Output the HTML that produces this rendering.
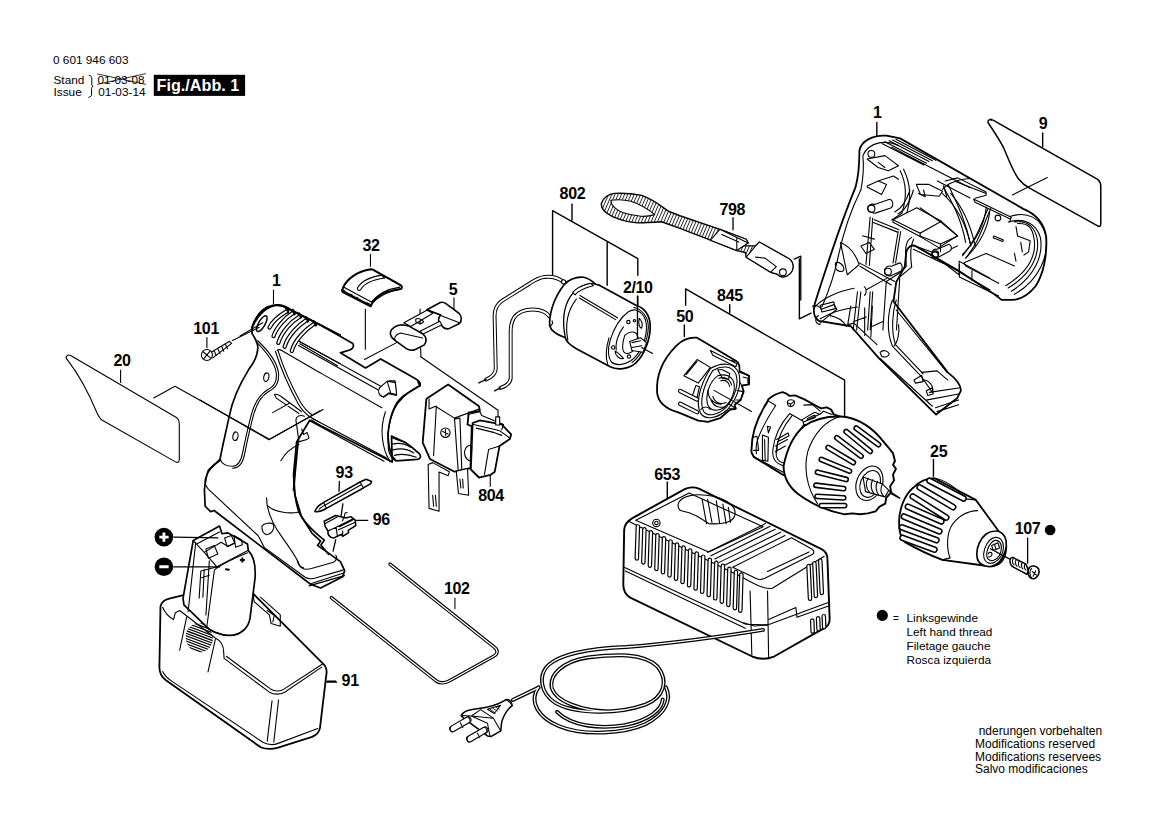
<!DOCTYPE html>
<html><head><meta charset="utf-8">
<style>
html,body{margin:0;padding:0;background:#fff;width:1169px;height:826px;overflow:hidden}
svg{display:block}
.t{font-family:"Liberation Sans",sans-serif;font-size:11.8px;fill:#000}
.l{font-family:"Liberation Sans",sans-serif;font-size:16px;font-weight:bold;fill:#000;letter-spacing:-0.35px}
.s{fill:none;stroke:#000;stroke-width:1.1;stroke-linejoin:round;stroke-linecap:round}
.s path,.s line,.s polyline,.s ellipse,.s circle,.s rect,.s polygon{vector-effect:non-scaling-stroke}
.w{fill:#fff}
</style></head><body>
<svg width="1169" height="826" viewBox="0 0 1169 826">
<rect width="1169" height="826" fill="#fff"/>
<!-- header -->
<text class="t" x="53" y="63.5">0 601 946 603</text>
<text class="t" x="53.5" y="84.2">Stand</text>
<text class="t" x="53.5" y="95.9">Issue</text>
<text class="t" x="97.4" y="84.2">01-03-08</text>
<text class="t" x="98.3" y="95.9">01-03-14</text>
<rect x="153.8" y="74.8" width="91.3" height="21.1" fill="#000"/>
<text x="156.6" y="90.8" style="font-family:'Liberation Sans',sans-serif;font-size:16.2px;font-weight:bold;fill:#fff">Fig./Abb. 1</text>
<path d="M88.8,75.2 C91,75.6 91.8,76.8 91.8,79 L91.8,84 C91.8,85.4 92.2,86 93.2,86.3 C92.2,86.7 91.6,87.3 91.6,88.6 L91.6,94 C91.6,96 90.6,97 88.4,97.3" fill="none" stroke="#000" stroke-width="1"/>
<path d="M97.1,73.9 L145.9,84.4 M97.1,84.4 L145.9,73.6" fill="none" stroke="#000" stroke-width="0.8"/>
<!-- labels -->
<text class="l" x="272" y="285.8">1</text>
<text class="l" x="193.3" y="334.3">101</text>
<text class="l" x="113.4" y="366.3">20</text>
<text class="l" x="362.4" y="251.1">32</text>
<text class="l" x="448.7" y="295.0">5</text>
<text class="l" x="559.6" y="198.8">802</text>
<text class="l" x="622.9" y="292.9">2/10</text>
<!-- battery 91 base (130,580 s4.5909) -->
<g class="s" transform="translate(130,580) scale(0.217822)">
<path class="w" d="M140,120 C145,100 160,90 180,85 L250,68 L565,62 L880,378 C898,392 905,410 902,430 L872,680 C868,700 856,712 836,720 L680,770 C650,778 625,778 600,768 L165,460 C145,445 135,425 135,400 Z" stroke-width="1.8"/>
<path d="M150,125 C160,150 180,170 200,182 L208,150 L228,140 L390,265 C420,280 430,300 430,330 L432,360 L640,515 C660,527 690,527 710,515 L880,400"/>
<path d="M442,350 L645,500 C665,512 690,512 705,502 L884,386"/>
<path d="M150,420 C160,440 175,455 200,470 L610,745 C630,755 660,758 680,750 L862,682"/>
<path d="M652,555 L630,740 M682,550 L660,745 M260,170 L228,322 M392,272 L358,422"/>
<path d="M565,65 L570,100 L640,160 L648,200 L690,212 L690,160 L600,80 M630,140 L662,162 L656,192"/>
<path d="M905,465 L945,465" stroke-width="1.4"/>
</g>
<g transform="translate(130,580) scale(0.217822)">
<defs><clipPath id="padclip"><ellipse cx="318" cy="265" rx="62" ry="68" transform="rotate(-15 318 265)"/></clipPath></defs>
<g clip-path="url(#padclip)" stroke="#000" stroke-width="5.5" fill="none">
<path d="M240,190 L400,250 M240,202 L400,262 M240,214 L400,274 M240,226 L400,286 M240,238 L400,298 M240,250 L400,310 M240,262 L400,322 M240,274 L400,334 M240,286 L400,346 M240,298 L400,358 M240,178 L400,238 M240,166 L400,226"/>
</g>
</g>
<!-- battery stem (150,510 s5.9) -->
<g class="s" transform="translate(150,510) scale(0.169492)">
<path class="w" d="M255,180 L410,95 L425,140 L460,135 L575,200 L580,240 C610,270 625,320 620,400 L590,640 C580,700 530,740 470,740 C410,740 350,710 330,685 L200,560 L195,520 Z" stroke-width="1.7"/>
<path d="M390,345 C440,310 520,275 575,252 M395,340 L380,355 L335,690"/>
<path d="M255,180 L320,250 L395,335 L580,238 M275,200 L410,130 M320,250 L420,190 L460,215 L500,195 M270,190 L225,600 M350,300 L330,620"/>
<path d="M330,230 L380,210 L400,260 L345,285 Z M440,165 L480,150 L500,195 L455,215 Z M495,150 L540,175 L545,205 L505,220 Z"/>
<path d="M300,360 L290,520 M320,350 L312,515 M300,360 L400,335 M305,400 L350,385"/>
<path d="M140,160 L400,165 M140,335 L412,335" stroke-width="1.2"/>
<path d="M535,295 L555,295 M545,285 L545,305 M448,350 L465,352" stroke-width="2"/>
</g>
<g transform="translate(150,510) scale(0.169492)">
<circle cx="82" cy="160" r="55" fill="#000"/><circle cx="82" cy="335" r="55" fill="#000"/>
<path d="M55,160 L110,160 M82,133 L82,187 M55,335 L110,335" stroke="#fff" stroke-width="17" fill="none"/>
</g>

<!-- bit 93 clip 96 (310,470 s9.1778) -->
<g class="s" transform="translate(310,470) scale(0.108959)">
<path d="M270,105 L266,195 M425,462 L530,462 M302,310 L278,470 M236,640 L212,745" stroke-width="1.3"/>
<path class="w" d="M45,380 C60,340 90,315 125,298 L460,110 L515,85 L565,105 L558,125 L490,165 L150,352 C115,372 85,390 45,380 Z" stroke-width="1.5"/>
<path d="M85,360 C100,345 120,330 140,322 L470,135 M460,110 L490,165 M125,298 L150,352"/>
<path class="w" d="M130,470 L235,418 L330,440 L375,428 L415,460 L420,510 L350,555 L355,575 L300,610 L290,590 L215,625 C180,615 160,590 165,560 L140,520 Z" stroke-width="1.5"/>
<path d="M140,492 L250,432 M165,560 L240,525 L395,448 M240,525 L250,600 M270,520 L400,455 M262,548 L410,482 M300,560 L300,600"/>
<path d="M298,465 L318,420 C314,402 324,386 340,392"/>
</g>

<!-- cap 32, slider 5 (320,220 s5.845) -->
<g class="s" transform="translate(320,220) scale(0.171086)">
<path d="M295,200 L295,270 M783,455 L783,520 M265,520 L265,755 M585,520 L585,610 M588,745 L590,800 M260,815 L470,705"/>
<path class="w" d="M625,525 L703,482 C718,478 728,482 738,490 L812,545 C830,562 830,590 815,605 L760,632 C745,640 730,637 718,625 L700,605 C690,590 692,570 705,555 Z" stroke-width="1.6"/>
<path d="M705,555 L625,525 M705,558 L815,600"/>
<path class="w" d="M585,650 L700,592 L712,612 L600,668 Z"/>
<path class="w" d="M490,600 L625,527 L660,545 L530,622 Z"/>
<path d="M560,580 C570,570 600,580 605,595 C600,610 570,605 560,595 Z"/>
<path class="w" d="M412,655 C420,630 450,615 480,612 L520,620 L600,665 C620,680 625,705 610,730 L560,755 C540,765 520,762 505,752 L440,705 C420,690 408,672 412,655 Z" stroke-width="1.6"/>
<path d="M440,705 C430,690 440,670 470,660 L600,690"/>
</g>
<!-- cap 32 (335,260 s16.514) -->
<g class="s" transform="translate(335,260) scale(0.060555)">
<path class="w" d="M140,440 C200,320 350,190 590,152 L625,158 L1090,420 C1112,438 1108,470 1085,480 C900,505 720,570 620,700 L590,765 L130,530 C110,515 112,495 125,480 Z" stroke-width="2"/>
<path d="M140,445 L600,695 C700,570 860,480 1070,448"/>
<path d="M130,500 L590,740 C690,620 860,520 1080,478"/>
<path class="w" d="M370,462 C420,380 550,282 780,250 L800,302 C600,332 470,402 422,492 C402,512 362,502 370,462 Z"/>
<path d="M625,158 L800,262 L820,300 M800,262 L900,310 L1100,430"/>
</g>
<g transform="translate(335,260) scale(0.060555)">
<path d="M135,490 L590,735 L585,765 L125,525 Z" fill="#000"/>
<path d="M170,510 L260,555 M380,620 L520,695 M290,575 L360,610" stroke="#fff" stroke-width="14" fill="none"/>
</g>

<!-- charger 653 (615,480 s4.5889) -->
<g class="s" transform="translate(615,480) scale(0.217917)">
<path d="M240,10 L240,80" stroke-width="1.4"/>
<path class="w" d="M80,175 L320,42 C340,32 365,32 385,40 L950,318 C968,328 975,345 975,365 L985,640 C985,660 975,672 960,680 L730,810 C700,822 660,822 630,810 L70,540 C45,525 38,505 38,480 L42,230 C42,210 55,190 80,175 Z" stroke-width="1.9"/>
<path d="M60,188 L590,450 C640,478 680,500 720,498 L960,350"/>
<path d="M95,185 L340,60 L680,215 L430,330 Z" />
<path d="M42,400 L600,662 L700,665 L985,560 M48,418 L598,680"/>
<path d="M700,510 L705,815 M620,510 L628,805"/>
<path d="M290,110 C300,75 360,62 420,70 C500,80 560,115 550,160 C545,195 490,205 430,200 L375,165 L340,150 L300,140 C290,130 288,120 290,110 Z"/>
<path d="M400,90 L420,200 M425,88 L445,195 M465,95 L480,198 M495,110 L510,200 M520,125 L530,195"/>
<circle cx="190" cy="197" r="17"/><circle cx="190" cy="197" r="8"/>
<path d="M425,332 L690,200 M440,348 L712,212 M458,362 L735,226 M478,378 L760,240 M500,392 L780,255"/>
<path d="M540,400 L810,265 L905,318 C915,325 915,335 905,342 L690,450 C675,458 660,458 648,452 Z"/>
<path d="M700,420 L890,330"/>
<path d="M590,655 L640,670 L700,665 M830,585 L835,630 L980,578 M830,585 L705,640"/>
</g>
<g transform="translate(615,480) scale(0.217917)" fill="none" stroke-linecap="round">
<g stroke="#000" stroke-width="21">
<path d="M105,213 L100,360 M135,226 L130,378 M165,240 L160,393 M195,254 L190,408 M225,268 L220,423 M255,282 L250,438 M285,296 L280,453 M315,310 L310,468 M345,324 L340,483 M375,338 L370,498 M405,352 L400,513 M435,366 L430,528 M465,380 L460,543 M495,394 L490,558 M525,408 L520,573 M555,422 L550,588 M580,434 L575,600"/>
<path d="M888,395 L895,545 M915,382 L922,532 M942,370 L949,518 M905,645 L907,695 M932,635 L934,685 M958,625 L960,675"/>
</g>
<g stroke="#fff" stroke-width="10">
<path d="M105,213 L100,360 M135,226 L130,378 M165,240 L160,393 M195,254 L190,408 M225,268 L220,423 M255,282 L250,438 M285,296 L280,453 M315,310 L310,468 M345,324 L340,483 M375,338 L370,498 M405,352 L400,513 M435,366 L430,528 M465,380 L460,543 M495,394 L490,558 M525,408 L520,573 M555,422 L550,588 M580,434 L575,600"/>
<path d="M888,395 L895,545 M915,382 L922,532 M942,370 L949,518 M905,645 L907,695 M932,635 L934,685 M958,625 L960,675"/>
</g>
</g>
<!-- cord + plug (440,640 s4.8708) -->
<g transform="translate(440,640) scale(0.205303)" fill="none" stroke-linecap="round" stroke-linejoin="round">
<g stroke="#000" stroke-width="19">
<path d="M1573,-49 C1400,-20 1100,20 906,34 C760,40 600,60 530,120 C475,170 490,260 560,305 C650,360 860,365 1000,315 C1090,280 1115,200 1060,130 C990,60 850,70 720,85 C590,105 530,175 545,235 C565,300 690,345 820,348"/>
<path d="M1100,230 C1130,290 1100,360 1000,410 C900,455 700,470 580,420 C480,380 430,300 480,230"/>
<path d="M1085,290 C1080,340 1020,390 900,415 C780,435 640,420 570,350"/>
<path d="M480,232 L355,292"/>
</g>
<g stroke="#fff" stroke-width="6.5">
<path d="M1573,-49 C1400,-20 1100,20 906,34 C760,40 600,60 530,120 C475,170 490,260 560,305 C650,360 860,365 1000,315 C1090,280 1115,200 1060,130 C990,60 850,70 720,85 C590,105 530,175 545,235 C565,300 690,345 820,348"/>
<path d="M1100,230 C1130,290 1100,360 1000,410 C900,455 700,470 580,420 C480,380 430,300 480,230"/>
<path d="M1085,290 C1080,340 1020,390 900,415 C780,435 640,420 570,350"/>
<path d="M480,232 L355,292"/>
</g>
</g>
<!-- plug (440,680 s11.8) -->
<g transform="translate(440,680) scale(0.084746)" fill="none" stroke-linecap="round" stroke-linejoin="round">
<path d="M780,232 C720,270 650,300 560,320 C480,335 400,345 330,360 C290,372 262,395 250,420 L290,460 L560,660 L600,668 L718,600 C722,560 722,520 732,480 C760,400 800,340 852,302 C850,280 835,250 815,235 C800,226 790,228 780,232 Z" fill="#fff" stroke="#000" stroke-width="18"/>
<path d="M780,232 C800,240 830,270 852,302 M370,425 L630,450 L715,600 M480,350 L630,450 M370,425 L560,510 L590,665 M250,420 L370,425 L480,350" stroke="#000" stroke-width="12"/>
<path d="M560,345 L715,298 L640,395 Z" fill="#fff" stroke="#000" stroke-width="12"/>
<path d="M590,345 L650,390 M625,335 L675,365 M660,322 L700,345" stroke="#000" stroke-width="10"/>
<g stroke="#000" stroke-width="84"><path d="M330,470 L150,575 M530,590 L350,695"/></g>
<g stroke="#fff" stroke-width="58"><path d="M330,470 L150,575 M530,590 L350,695"/></g>
<path d="M130,550 C115,560 115,595 135,610 M330,670 C315,680 315,715 335,730 M240,505 L270,560 M440,625 L470,680 M330,440 C355,450 365,490 340,510 M530,560 C555,570 565,610 540,630" stroke="#000" stroke-width="12"/>
</g>

<!-- chuck 25 + screw 107 (840,430 s5.0826) -->
<g class="s" transform="translate(840,430) scale(0.196748)">
<path d="M475,150 L475,235 M235,310 L300,345" stroke-width="1.4"/>
<path class="w" d="M300,470 C300,400 330,330 370,295 C400,265 440,245 480,245 L690,355 L840,560 C850,590 845,640 820,670 C800,690 770,695 740,690 L520,660 C480,645 400,610 330,570 C310,550 300,510 300,470 Z" stroke-width="1.8"/>
<path d="M480,245 C520,250 590,285 635,350 M690,355 L635,350"/>
<path d="M700,410 C650,410 590,440 560,500 C540,550 545,620 560,650 L520,660"/>







</g>
<g transform="translate(840,430) scale(0.196748)" fill="none" stroke-linecap="round"><g stroke="#000" stroke-width="34"><path d="M455,258 L628,348 M405,292 L575,392 M370,338 L540,445 M345,390 L515,465 M325,440 L505,515 M315,495 L490,560 M318,548 L480,608"/></g><g stroke="#fff" stroke-width="18"><path d="M455,258 L628,348 M405,292 L575,392 M370,338 L540,445 M345,390 L515,465 M325,440 L505,515 M315,495 L490,560 M318,548 L480,608"/></g></g>
<g transform="translate(840,430) scale(0.196748)"><circle cx="1068" cy="508" r="27" fill="#000"/></g>
<!-- chuck nose + screw 107 (970,520 s11.8) -->
<g class="s" transform="translate(970,520) scale(0.084746)">
<path d="M680,215 L680,510" stroke-width="1.3"/>
<path class="w" d="M300,130 C360,125 410,170 425,240 C440,320 410,420 350,490 C300,540 230,560 170,540 C110,520 80,470 80,400 C80,320 120,220 190,165 C225,140 260,132 300,130 Z" stroke-width="1.7"/>
<path d="M300,205 C360,200 395,250 395,320 C395,400 350,470 290,500 C230,525 180,505 165,450 C150,390 175,300 225,245 C250,220 275,207 300,205 Z"/>
<path d="M300,240 C345,238 372,275 370,330 C368,395 335,450 285,472 C240,490 205,470 198,430 C190,380 215,310 250,270 C265,252 282,242 300,240 Z"/>
<path d="M255,300 L330,270 L350,330 L275,360 Z M290,285 L305,345 M215,400 C220,380 250,375 260,395 C262,420 240,440 220,435"/>
<path d="M240,340 L470,462" stroke-width="1.2"/>
<path class="w" d="M480,450 C500,440 520,445 530,455 L660,520 L690,600 L670,640 L520,560 C490,545 470,520 472,480 Z" stroke-width="1.5"/>
<path d="M510,455 C495,480 500,515 520,530 M545,470 C530,495 535,530 555,545 M580,487 C565,512 570,547 590,560 M615,503 C600,528 605,563 625,577 M650,518 C635,543 640,578 660,592"/>
<path class="w" d="M700,560 C730,530 790,540 810,580 C825,620 805,670 765,690 C730,700 700,680 690,650 C682,620 685,585 700,560 Z" stroke-width="1.6"/>
<path d="M725,570 C700,600 700,660 730,685 M735,610 L785,650 M775,600 L745,665"/>
</g>

<!-- gear 50 + 845 bracket (640,270 s3.177) -->
<g class="s" transform="translate(640,270) scale(0.314762)">
<path d="M145,112 L145,60 L650,350 L650,465 M285,110 L285,135" stroke-width="1.4"/>
</g>
<!-- gear 50 (645,325 s8.26) -->
<g class="s" transform="translate(645,325) scale(0.121065)">
<path d="M325,0 L325,95" stroke-width="1.4"/>
<path class="w" d="M100,560 C90,420 150,280 260,170 C310,120 370,100 430,105 L750,295 C775,310 785,340 780,380 L860,420 L860,490 L800,500 L815,550 L790,620 L740,660 L750,690 L700,700 L620,770 L520,800 L440,790 L270,720 C170,690 110,640 100,560 Z" stroke-width="1.8"/>
<path d="M540,360 C620,310 740,300 775,400 C800,480 770,600 680,700 C600,770 500,790 460,730 C420,660 440,520 540,360 Z"/>
<path d="M560,375 C630,335 720,330 752,410 C775,480 748,590 670,680 C600,745 520,760 485,715 C450,650 470,520 560,375 Z"/>
<path d="M600,420 C660,400 720,420 735,480 C748,550 715,640 640,690 C580,720 530,700 515,650 C500,580 530,470 600,420 Z"/>
<path d="M610,440 C660,425 705,445 715,495 M625,460 C665,450 695,470 700,510 M560,590 C575,640 620,660 670,640 M545,620 C565,670 610,690 660,675 M520,540 C520,600 560,650 630,655"/>
<path d="M540,210 L760,320 L750,345 L560,250 Z M700,290 L740,300"/>
<path d="M780,390 L860,420 L860,490 L800,500 L780,470 M810,430 L850,440 L850,480"/>
<path d="M760,540 L810,550 L790,620 L750,620 M690,650 L750,690 L740,700 L700,690"/>
<path d="M320,420 L430,285 L540,350 L440,480 Z M340,410 L430,300"/>
<path d="M390,590 L420,500 L450,510 L430,600 Z"/>
<path d="M600,370 L640,370 L700,400 L690,450 L640,440 Z M460,700 C480,670 520,670 540,700"/>
</g>
<g transform="translate(645,325) scale(0.121065)" fill="none" stroke-linecap="round">
<g stroke="#000" stroke-width="36"><path d="M290,545 L430,615 M290,650 L430,720"/></g>
<g stroke="#fff" stroke-width="18"><path d="M290,545 L430,615 M290,650 L430,720"/></g>
<path d="M570,540 L880,715" stroke="#000" stroke-width="9"/>
</g>

<!-- gearbox back (745,385 s9.18) -->
<g class="s" transform="translate(745,385) scale(0.108932)">
<path class="w" d="M60,620 C55,480 90,330 205,155 L215,130 C250,100 300,75 345,65 L380,80 L410,100 L460,95 L540,130 C600,160 650,190 700,215 L750,205 L790,225 L815,270 L870,290 L500,826 L350,826 L180,720 L80,660 Z" stroke-width="1.9"/>
<path d="M215,148 L282,188 M282,188 C220,280 150,400 110,520 C100,570 100,600 105,630"/>
<path d="M410,262 L530,330 M410,262 C330,350 270,460 255,600 C250,680 280,720 360,745 M432,282 C360,370 300,470 285,610 C282,670 300,705 370,720"/>
<path d="M530,330 L540,360 L600,385 M540,360 C470,450 420,560 400,700"/>
<path d="M390,150 C400,130 440,130 455,150 C460,175 440,200 415,198 C395,195 385,170 390,150 Z M395,165 L420,175 L452,150 M420,175 L418,198"/>
<path d="M540,185 L620,180 L690,240 M520,320 L640,250 L690,270 L720,240 L800,270 M540,340 L680,270 M580,305 L630,280 C650,275 655,290 640,300 L590,320 C570,325 565,310 580,305 Z"/>
<path d="M75,480 L110,470 L125,600 L80,600 M160,460 L215,480 L210,700 L160,690 Z M180,500 L185,690 M205,380 L235,385 L215,440 Z"/>
<path d="M290,500 L395,440 L405,465 L300,520 M280,560 L390,500 M280,610 L370,560 M300,520 L290,620"/>
<path d="M60,620 C70,650 90,670 120,680 L350,800"/>
</g>
<!-- gearbox 845 (740,370 s5.1625) -->
<g class="s" transform="translate(740,370) scale(0.193705)">
<path class="w" d="M225,495 C240,420 270,340 330,290 C380,255 440,238 520,240 C600,245 670,290 720,345 L770,405 L790,430 L800,470 L790,490 L805,510 L790,540 L795,570 L775,600 L780,630 L755,660 L750,690 L720,705 L700,730 L660,740 L620,745 L580,740 L540,745 C460,730 380,700 300,640 C250,600 225,550 225,495 Z" stroke-width="1.9"/>
<path d="M520,240 C440,260 380,330 350,420 C330,500 340,600 400,690"/>
</g>
<g transform="translate(740,370) scale(0.193705)" fill="none" stroke-linecap="round">
<g stroke="#000" stroke-width="30">
<path d="M600,300 L715,385 M548,318 L672,420 M500,350 L625,445 M455,400 L585,478 M420,462 L565,522 M400,528 L548,565 M392,595 L535,612 M398,652 L535,660 M420,700 L540,700"/>
</g>
<g stroke="#fff" stroke-width="14">
<path d="M600,300 L715,385 M548,318 L672,420 M500,350 L625,445 M455,400 L585,478 M420,462 L565,522 M400,528 L548,565 M392,595 L535,612 M398,652 L535,660 M420,700 L540,700"/>
</g>
</g>
<g class="s" transform="translate(740,370) scale(0.193705)">
<ellipse class="w" cx="668" cy="585" rx="66" ry="92" transform="rotate(22 668 585)"/>
<ellipse cx="672" cy="588" rx="50" ry="72" transform="rotate(22 672 588)"/>
<path class="w" d="M635,552 L735,588 L768,622 L748,655 L648,628 Z"/>
<path d="M662,558 C646,580 650,612 668,630 M686,566 C671,589 676,620 692,638 M710,575 C697,598 702,628 716,645 M735,588 C724,610 727,636 742,652 M768,622 L826,662"/>
</g>

<!-- LEFT HOUSING silhouette (zoom 180,280 s2.58125) -->
<g class="s" transform="translate(180,280) scale(0.387409)">
<path class="w" d="M186,123 C190,105 205,80 225,70 C238,65 255,63 265,66 C272,68 278,72 285,76 L360,115 L445,163 C450,168 448,175 440,180 L414,188 L479,227 L518,204 L608,255 C618,260 622,268 619,273 C600,285 590,290 583,295 C568,305 560,315 555,326 C545,345 540,365 537,395 C537,420 540,440 549,457 L558,467 L612,463 C622,462 624,452 615,446 C600,432 590,423 575,416 L546,403 L548,470 L335,362 L301,418 L293,502 L296,553 L313,609 L341,654 L363,674 L355,685 L386,707 L414,727 L425,750 L420,766 L363,795 L338,786 L88,595 L79,598 L65,584 L63,542 C65,520 70,500 73,492 C80,482 90,475 103,464 C108,436 117,399 127,352 C136,305 155,267 178,230 C190,215 200,195 201,175 C201,160 192,148 186,138 Z" stroke-width="1.7"/>
</g>
<!-- ribs / top (240,295 s11.69) -->
<g class="s" transform="translate(240,295) scale(0.085543)">
<path d="M140,380 C200,250 300,140 420,120 C480,115 530,140 560,160 L920,340 L1169,470" stroke-width="2"/>
<path d="M545,160 L560,200 M615,180 L635,220 M690,220 L710,260 M770,265 L790,305 M860,310 L885,350" stroke-width="3"/>
<ellipse cx="255" cy="335" rx="38" ry="105" transform="rotate(30 255 335)" stroke-width="1.5"/>
<path d="M0,480 L265,325"/>
<path d="M690,540 L1169,800 M700,570 L1140,826"/>
</g>
<g transform="translate(240,295) scale(0.085543)" fill="none" stroke-linecap="round">
<g stroke="#000" stroke-width="50">
<path d="M540,195 C480,230 385,305 345,380"/><path d="M612,215 C540,260 425,375 392,480"/><path d="M688,258 C608,305 490,425 448,560"/><path d="M768,300 C690,350 560,470 522,605"/><path d="M855,345 C780,395 640,520 605,655"/>
</g>
<g stroke="#fff" stroke-width="22">
<path d="M540,195 C480,230 385,305 345,380"/><path d="M612,215 C540,260 425,375 392,480"/><path d="M688,258 C608,305 490,425 448,560"/><path d="M768,300 C690,350 560,470 522,605"/><path d="M855,345 C780,395 640,520 605,655"/>
</g>
</g>
<!-- grip (200,340 s5.5067) -->
<g class="s" transform="translate(200,340) scale(0.181598)">

<path d="M310,10 C360,60 410,120 420,180 C425,230 410,255 370,275 C330,300 300,340 280,420 C265,480 250,540 235,620 C225,670 210,695 180,695 C145,695 120,680 112,660"/>
<path d="M318,4 C372,55 422,115 432,178 C437,235 420,262 378,284 C340,306 312,345 292,422 C277,482 262,542 247,622 C237,680 218,706 180,706"/>
<ellipse cx="365" cy="205" rx="14" ry="24" transform="rotate(12 365 205)"/>
<ellipse cx="195" cy="530" rx="14" ry="24" transform="rotate(12 195 530)"/>
<path d="M415,62 C440,140 490,260 540,350 C560,385 580,405 600,420"/>
<path d="M430,60 C455,140 505,255 552,340 C570,370 590,395 615,410"/>
<path d="M425,58 C430,52 440,52 450,58 L661,180"/>
<path d="M410,300 C420,295 430,300 445,310 L560,395 M410,300 L420,320 L545,405 M400,400 L490,350"/>
<path d="M0,330 L380,550 L661,390"/>
<path d="M545,560 L528,440 C530,420 550,410 575,420 M545,560 C565,555 590,550 600,540 L590,510 L570,520 L560,490"/>
<path d="M540,560 L515,826" stroke-width="1.8"/>
<path d="M445,665 C470,620 510,590 545,575"/>
<path d="M600,420 L661,455 M615,440 L661,470"/>
</g>
<!-- front opening details (360,370 s8.26) -->
<g class="s" transform="translate(360,370) scale(0.121065)">
<path d="M480,135 C400,180 320,250 280,330 C240,420 220,520 235,660 C245,700 260,730 285,745"/>
<path d="M210,345 C185,420 178,500 185,560 C190,620 205,690 250,760"/>
<path d="M262,560 C300,575 340,590 380,600 M268,612 C320,600 370,605 420,640 M273,660 C330,645 390,650 445,685 M283,705 C340,690 400,695 465,720"/>
<path d="M165,145 C150,170 160,215 195,225 L240,195 L300,210 L290,90 L240,90 Z"/>
<path d="M480,95 L495,130" stroke-width="2"/>
</g>
<!-- lower base details (195,460 s6.356) -->
<g class="s" transform="translate(195,460) scale(0.157332)">
<path d="M165,0 C110,40 80,70 65,120 C60,150 70,175 100,200 L400,480 C415,500 425,530 440,555 L700,745 C715,755 735,758 760,752 L940,700"/>
<path d="M740,785 L945,718 M725,800 L950,735"/>
<path d="M640,0 C625,120 625,230 660,330 C690,400 760,460 822,510 L800,540 L850,600" stroke-width="1.6"/>
<path d="M455,240 C455,330 500,420 560,500 C610,570 650,630 660,660 C670,690 700,700 740,690 L880,650 C900,640 905,620 895,605"/>
<path d="M460,290 C500,330 600,345 660,330"/>
<path d="M425,420 C440,400 480,395 500,410 C505,440 490,470 455,475 C435,470 425,445 425,420 Z"/>
<path d="M650,640 C655,665 665,680 690,685"/>
</g>

<!-- upper extra lines (190,290 s4.5875) -->
<g class="s" transform="translate(190,290) scale(0.217984)">
<path d="M383,0 L383,62"/>
<path d="M505,238 L875,442 M498,255 L862,458"/>
<path class="w" d="M870,448 C858,465 868,488 888,490 L912,472 L948,480 L942,425 L905,418 Z"/>
<path d="M905,420 L920,470"/>
<path d="M596,379 L880,540"/>
<path d="M560,588 L900,770 M553,602 L890,786"/>
</g>

<!-- motor wires + brackets (470,180 s3.7545) -->
<g class="s" transform="translate(470,180) scale(0.266347)">
<path d="M310,360 L310,115 L630,295 L630,358 M630,436 L630,590 M515,235 L515,395 M383,90 L383,150" stroke-width="1.4"/>
</g>
<g transform="translate(470,260) scale(0.169492)" fill="none" stroke-linecap="round" stroke-linejoin="round">
<g stroke="#000" stroke-width="23">
<path d="M550,128 C520,105 480,95 440,100 C410,105 380,120 350,140 L190,240 C160,260 145,290 145,330 L152,640 C152,670 130,690 95,705"/>
<path d="M470,335 C450,305 420,292 370,292 C320,292 285,305 260,340 C245,365 240,390 240,420 L240,700 C235,730 210,745 180,755"/>
</g>
<g stroke="#fff" stroke-width="11">
<path d="M550,128 C520,105 480,95 440,100 C410,105 380,120 350,140 L190,240 C160,260 145,290 145,330 L152,640 C152,670 130,690 95,705"/>
<path d="M470,335 C450,305 420,292 370,292 C320,292 285,305 260,340 C245,365 240,390 240,420 L240,700 C235,730 210,745 180,755"/>
</g>
<path d="M95,705 L52,725 M180,755 L145,772" stroke="#000" stroke-width="8"/>
</g>
<!-- motor body (540,270 s8.26) -->
<g class="s" transform="translate(540,270) scale(0.121065)">
<path class="w" d="M80,460 C75,380 100,250 200,120 C240,80 300,55 360,60 C400,65 430,90 460,118 L490,125 L800,295 C860,310 905,370 910,450 C915,560 870,690 790,770 C730,820 640,830 580,800 L300,650 C250,620 215,590 210,560 C130,530 90,500 80,460 Z" stroke-width="1.7"/>
<path d="M450,115 C380,100 300,150 250,220 C200,300 180,420 210,560" stroke-width="1.3"/>
<path d="M330,210 L640,395 M325,232 L625,410 M300,240 C230,330 205,450 230,580"/>
<path d="M80,460 C80,480 95,450 105,440 L100,420"/>
<path class="w" d="M270,185 C290,160 340,130 420,110 L440,130 C360,150 310,180 290,205 Z"/>
<path d="M790,330 C850,350 880,410 880,480 C875,590 820,700 750,750 C690,790 620,790 590,760 C560,720 560,650 580,580 C610,480 670,390 730,345 C750,333 770,328 790,330 Z"/>
<path d="M775,310 C840,320 895,390 895,470 C890,590 835,710 760,765 M560,780 C540,720 545,640 570,560"/>
<path d="M690,470 C650,520 620,600 630,660 M820,400 C840,420 850,450 840,480 C820,480 810,440 820,400 Z M620,670 C640,680 680,720 690,730 C660,740 620,710 620,670 Z"/>
<circle cx="730" cy="430" r="14"/><circle cx="605" cy="640" r="14"/><circle cx="735" cy="715" r="14"/><circle cx="780" cy="420" r="10"/>
<path d="M700,540 C740,500 800,500 810,560 C815,620 780,680 720,690 C680,690 670,640 700,540 Z"/>
<path class="w" d="M740,590 L830,560 L880,600 L850,680 L760,665 Z"/>
<path d="M760,600 L830,585 M760,640 L840,625 M840,640 L930,690"/>
<circle cx="195" cy="98" r="18" class="w"/>
<path d="M805,215 L805,565" stroke-width="1.3"/>
</g>

<!-- plate 20 + screw 101 (50,230 s3.441) -->
<g class="s" transform="translate(50,230) scale(0.290578)">
<path d="M58,433 C62,428 70,430 80,437 L435,645 C442,650 445,660 445,670 L445,790 C445,798 440,802 432,798 L180,655 C172,650 168,643 162,630 C135,565 105,505 60,447 C54,441 54,437 58,433 Z"/>
<path d="M243,482 L243,525"/>
<path d="M357,578 L430,538 L755,720 L940,618"/>
<path d="M540,370 L540,405"/>
<path d="M628,380 L720,335"/>
<circle cx="540" cy="430" r="19"/>
<path d="M528,420 L552,440 M550,418 L530,442"/>
<path d="M556,420 L618,383 L625,390 L560,440"/>
<path d="M565,416 L572,432 M578,409 L585,425 M591,401 L598,417 M604,394 L611,409"/>
</g>

<!-- right housing + plate 9 (780,100 s2.58125) -->
<g class="s" transform="translate(780,100) scale(0.387409)">
<path d="M250,58 L250,95 M678,85 L678,120 M50,410 L50,565 L80,550" stroke-width="1.4"/>
<path d="M545,50 C538,50 535,55 538,60 C555,85 568,105 578,125 C593,160 603,188 616,204 C624,214 630,220 642,226 L820,325 C825,328 828,325 828,320 L828,222 C828,215 826,210 820,205 L550,52 C548,51 547,51 545,52 Z" stroke-width="1.5"/>
<path d="M600,245 L690,200"/>
<path class="w" d="M205,130 C210,105 240,90 275,92 L310,99 L628,281 C650,290 680,310 687,352 C690,400 680,450 660,480 C640,505 620,515 600,516 L572,516 L554,502 L460,440 L352,378 C340,372 330,378 326,392 L322,430 L300,470 L293,520 L433,703 C455,720 467,735 467,750 L457,770 L403,812 L254,665 L183,584 L100,570 C85,560 85,545 90,525 C120,430 160,310 195,225 C205,190 205,160 205,130 Z" stroke-width="1.8"/>
</g>
<!-- top (790,120 s5.9) -->
<g class="s" transform="translate(790,120) scale(0.169492)">
<path d="M430,210 C445,175 480,145 525,135 C570,128 610,135 640,150 M430,210 C435,260 435,330 418,413"/>
<path d="M545,140 L790,265 M560,128 L805,255 M585,122 L820,245 M605,118 L840,240 M625,114 L860,238 M600,160 L830,280"/>
<path d="M830,280 L1062,400 M870,360 L1062,460"/>
<circle cx="480" cy="200" r="20"/><path d="M455,230 L560,210 L600,240 L640,270 L580,300 L520,280 Z M520,250 L560,280"/>
<path d="M455,390 L520,360 L570,380 L540,440 L455,395 M520,360 L610,330 L640,350"/>

<path d="M650,300 C690,380 690,460 660,550 L600,590 M670,290 C715,380 715,470 685,560"/>
<path d="M745,380 L820,380 L900,420 L880,450 L770,440 Z M900,410 C920,380 980,350 1062,345"/>




</g>
<!-- mid (810,190 s5.9) -->
<g class="s" transform="translate(810,190) scale(0.169492)">
<path d="M300,0 C260,80 200,230 165,400 C140,520 100,620 70,690"/>
<path d="M180,310 C230,330 270,380 290,440 L220,500 Z"/>
<path class="w" d="M340,110 C340,90 360,80 380,85 L470,55 C490,60 495,90 480,105 L390,135 C370,140 345,130 340,110 Z"/>
<circle cx="362" cy="110" r="21"/>
<path d="M355,160 L330,440 M370,165 L350,445 M370,190 L520,250 M380,175 L525,235 M520,245 L490,430 M535,245 L505,430"/>
<path d="M300,330 L350,310 L380,350 L330,375 Z M310,270 L380,290"/>
<path d="M290,430 L500,540 M295,450 L480,560"/>
<path class="w" d="M440,480 C440,455 460,445 480,450 L530,430 C545,435 550,465 535,480 L480,505 C460,510 440,500 440,480 Z"/>
<circle cx="460" cy="482" r="20"/>
<path d="M600,280 C575,290 560,330 565,380 L568,450 L540,482 L450,540 L430,826 M612,290 C595,320 590,380 600,455 L530,512 L510,826"/>
<path class="w" d="M490,175 L630,105 L775,185 L650,255 Z"/>
<path class="w" d="M650,255 L775,185 L870,270 L760,340 L650,275 Z"/>
<path d="M490,175 L490,190 L650,275 M620,330 L760,380 L870,330"/>
<path class="w" d="M720,370 C720,355 735,345 750,350 L820,320 C835,325 840,350 825,360 L760,395 C740,400 720,390 720,370 Z"/>
<circle cx="740" cy="378" r="19"/>
<path d="M780,20 C860,90 920,200 950,330 M830,20 C900,100 950,220 975,330 M1040,100 C1030,200 990,290 900,380 M1060,130 C1050,220 1010,310 920,400"/>
<path d="M620,330 L1062,590 M610,350 L800,440 L880,500 M880,420 L1062,520 M880,420 L880,500"/>
<path d="M20,700 C60,650 150,600 260,580 M60,760 C110,730 190,700 280,690 M280,600 L255,826 M300,600 L275,826 M355,600 L340,826 M370,600 L355,826 M330,590 L455,520 M320,570 C335,580 335,610 322,622"/>
<path d="M60,680 L140,660 L150,700 L70,720 Z M150,430 C170,420 200,440 200,470 C190,490 160,480 150,460 Z"/>
<path d="M640,20 L680,40 L670,0 M500,130 C540,110 570,60 590,0 M520,140 C560,120 590,70 610,0"/>
</g>
<!-- front ring (920,170 s6.3533) -->
<g class="s" transform="translate(920,170) scale(0.157398)">
<path d="M570,295 C680,260 770,300 800,420 C820,540 760,700 600,790 M560,330 C660,300 740,340 765,430 C785,540 730,680 580,770 M600,330 C680,320 730,360 745,440 C760,540 710,660 560,750 M620,340 C690,335 715,370 725,440 C740,530 700,640 545,735"/>
<path d="M340,185 L580,300 L570,330 M340,185 L350,205 L570,310"/>
<path d="M450,245 C400,350 380,450 290,560 M430,250 C385,350 360,440 270,545"/>
<path d="M280,590 L420,530 L600,610 M280,590 L290,610 L500,720 M250,600 L250,680 L500,800 M330,640 L330,700"/>
<path d="M470,420 L530,445 L525,455 L465,430 Z"/>
<circle cx="495" cy="305" r="18"/>
<path d="M610,360 L620,420 L700,450 L690,520 L660,540 M640,460 L650,520 M600,530 L610,580"/>
<path d="M160,70 L240,50 L420,140 L420,160 L350,180 M230,75 L420,150"/>
<path d="M150,100 L170,170 M0,240 L130,330 L240,420 M0,420 L130,470 L240,420 M130,470 L130,520"/>
<circle cx="95" cy="540" r="20"/>
<path d="M150,110 C200,200 260,300 290,460 M180,95 C230,200 290,320 320,470"/>
</g>
<!-- arm (800,300 s6.4944) -->
<g class="s" transform="translate(800,300) scale(0.153978)">
<path d="M600,0 C570,80 560,200 600,300 L790,500 L860,600 M625,0 C600,80 590,200 620,290 L800,480"/>
<path d="M625,65 L955,470 M640,160 C650,220 630,280 610,300"/>
<path d="M520,340 C540,320 570,330 580,350 C575,370 550,375 530,365 Z M520,380 L860,690 M840,600 L1040,570 M820,650 L1030,610 M880,700 L1030,650 M890,725 L1030,680"/>
<path d="M790,470 L890,460 L960,520 M800,520 C840,520 870,560 860,600"/>
<path d="M740,520 L790,490 L800,530 L750,540 Z M820,590 L860,570 L865,610 L830,620 Z"/>
<path d="M80,40 C100,30 130,40 140,60 L220,30 L240,60 L190,100 C240,110 280,130 300,170 M330,40 L310,160 L350,150 L500,290 M420,50 L420,230 M470,40 L460,240 M350,140 L430,110 M470,170 L540,140"/>
<path d="M130,150 L190,100 M120,100 C100,110 90,150 130,160"/>
</g>

<!-- strap 798 (590,180 s5.3136) -->
<g class="s" transform="translate(590,180) scale(0.188196)">

<path d="M760,200 L760,265 M1085,420 L1120,405 L1120,638" stroke-width="1.3"/>
<defs><clipPath id="strapclip" clip-rule="evenodd"><path clip-rule="evenodd" d="M60,126 C68,95 100,74 130,71 C180,68 230,73 275,82 C330,100 380,140 417,166 L478,190 L690,262 L830,315 L840,335 L800,350 L880,350 L900,330 L1060,420 C1085,440 1085,480 1060,500 C1040,520 1010,520 995,500 L960,490 L830,410 L825,385 L780,375 L640,320 L478,257 L380,222 C340,225 300,228 253,228 C200,225 160,213 120,195 C85,178 58,155 60,126 Z M111,108 C150,102 190,106 217,113 C270,130 315,160 344,184 C320,192 295,194 271,193 C235,190 200,182 173,173 C140,160 110,135 111,108 Z"/></clipPath></defs>
<g clip-path="url(#strapclip)"><path d="M-400,600 L-140,0 M-383,600 L-123,0 M-366,600 L-106,0 M-349,600 L-89,0 M-332,600 L-72,0 M-315,600 L-55,0 M-298,600 L-38,0 M-281,600 L-21,0 M-264,600 L-4,0 M-247,600 L13,0 M-230,600 L30,0 M-213,600 L47,0 M-196,600 L64,0 M-179,600 L81,0 M-162,600 L98,0 M-145,600 L115,0 M-128,600 L132,0 M-111,600 L149,0 M-94,600 L166,0 M-77,600 L183,0 M-60,600 L200,0 M-43,600 L217,0 M-26,600 L234,0 M-9,600 L251,0 M8,600 L268,0 M25,600 L285,0 M42,600 L302,0 M59,600 L319,0 M76,600 L336,0 M93,600 L353,0 M110,600 L370,0 M127,600 L387,0 M144,600 L404,0 M161,600 L421,0 M178,600 L438,0 M195,600 L455,0 M212,600 L472,0 M229,600 L489,0 M246,600 L506,0 M263,600 L523,0 M280,600 L540,0 M297,600 L557,0 M314,600 L574,0 M331,600 L591,0 M348,600 L608,0 M365,600 L625,0 M382,600 L642,0 M399,600 L659,0 M416,600 L676,0 M433,600 L693,0 M450,600 L710,0 M467,600 L727,0 M484,600 L744,0 M501,600 L761,0 M518,600 L778,0 M535,600 L795,0 M552,600 L812,0 M569,600 L829,0 M586,600 L846,0 M603,600 L863,0 M620,600 L880,0 M637,600 L897,0 M654,600 L914,0 M671,600 L931,0 M688,600 L948,0 M705,600 L965,0 M722,600 L982,0 M739,600 L999,0 M756,600 L1016,0 M773,600 L1033,0 M790,600 L1050,0 M807,600 L1067,0 M824,600 L1084,0 M841,600 L1101,0 M858,600 L1118,0 M875,600 L1135,0 M892,600 L1152,0 M909,600 L1169,0 M926,600 L1186,0 M943,600 L1203,0 M960,600 L1220,0 M977,600 L1237,0 M994,600 L1254,0" stroke-width="0.85"/></g>
<path d="M60,126 C68,95 100,74 130,71 C180,68 230,73 275,82 C330,100 380,140 417,166 L478,190 L690,262 L830,315 L840,335 L800,350 L880,350 L900,330 L1060,420 C1085,440 1085,480 1060,500 C1040,520 1010,520 995,500 L960,490 L830,410 L825,385 L780,375 L640,320 L478,257 L380,222 C340,225 300,228 253,228 C200,225 160,213 120,195 C85,178 58,155 60,126 Z" stroke-width="1.4"/>
<path class="w" d="M111,108 C150,102 190,106 217,113 C270,130 315,160 344,184 C320,192 295,194 271,193 C235,190 200,182 173,173 C140,160 110,135 111,108 Z" stroke-width="1.1"/>
<path class="w" d="M830,410 L880,350 L900,330 L1060,420 C1085,440 1085,480 1060,500 C1040,520 1010,520 995,500 L960,490 Z"/>
<path d="M880,410 L930,415 L990,460 L960,490"/>
<path class="w" d="M640,320 L690,262 L830,315 L840,335 L780,375 Z"/>
<path d="M690,262 L780,305 L840,335 M780,305 L780,375 M700,290 L790,330"/>
<circle cx="1025" cy="490" r="18"/>
</g>

<!-- switch 804 (400,370 s5.5067) -->
<g class="s" transform="translate(400,370) scale(0.181598)">
<path d="M116,-72 L540,222 L540,262"/>
<path d="M497,580 L497,640"/>

<path class="w" d="M150,155 L265,80 L435,200 L440,225 L378,235 L372,300 L395,310 L388,540 L300,560 L165,490 L125,400 L145,160 Z" stroke-width="1.8"/>
<path d="M160,160 L160,215 L195,200 L300,265 L320,548 M200,200 L185,470 M300,265 L435,215 M305,270 L330,265 L340,545"/>
<circle cx="250" cy="345" r="26"/><path d="M235,338 L265,352 M250,328 L252,360"/>
<path class="w" d="M400,292 L440,277 L560,300 L612,355 L605,380 L548,418 L522,560 L498,578 L435,592 L390,548 Z" stroke-width="1.8"/>
<path d="M405,300 L550,335 L605,375 M488,438 L548,418 M488,438 L465,575 M420,320 L520,345 L560,360"/>
<path d="M375,245 L440,230 L450,250 L520,280 L570,300 L560,330"/>
<rect x="527" y="258" width="22" height="45" class="w"/>
<path d="M355,450 C360,420 380,410 395,420 L392,500 C370,500 355,480 355,450 Z"/>
<path class="w" d="M155,520 L180,510 L272,560 L265,582 L215,562 L215,778 L160,762 Z"/>
<path class="w" d="M310,558 L372,542 L378,690 L322,680 Z"/>
<path d="M180,690 L185,750 M195,690 L200,750 M330,600 L335,650 M345,600 L348,650"/>
</g>

<!-- wire 102 (300,540 s5.1636) -->
<g transform="translate(300,540) scale(0.193662)" fill="none" stroke-linecap="round" stroke-linejoin="round">
<path d="M465,125 L1005,555 C1025,570 1020,590 1000,600 L770,728 C745,742 715,740 700,725 L162,298" stroke="#000" stroke-width="18"/>
<path d="M465,125 L1005,555 C1025,570 1020,590 1000,600 L770,728 C745,742 715,740 700,725 L162,298" stroke="#fff" stroke-width="6.5"/>
<path d="M800,300 L800,355 M135,735 L190,735" stroke="#000" stroke-width="5.5"/>
</g>

<text class="l" x="873" y="118.0">1</text>
<text class="l" x="1038.8" y="128.5">9</text>
<text class="l" x="719.5" y="214.5">798</text>
<text class="l" x="676.2" y="322.1">50</text>
<text class="l" x="717.1" y="300.5">845</text>
<text class="l" x="654.3" y="480.2">653</text>
<text class="l" x="930.1" y="456.8">25</text>
<text class="l" x="1014.7" y="533.9">107</text>
<text class="l" x="478.2" y="500.6">804</text>
<text class="l" x="335.6" y="478.4">93</text>
<text class="l" x="372.7" y="525.2">96</text>
<text class="l" x="444" y="593.6">102</text>
<text class="l" x="341.6" y="686.2">91</text>
<!-- legend -->
<circle cx="882.3" cy="615.4" r="5.6" fill="#000"/>
<text class="t" style="font-size:10px" x="893" y="622">=</text>
<text class="t" x="906.5" y="621.5">Linksgewinde</text>
<text class="t" x="906.5" y="635.5">Left hand thread</text>
<text class="t" x="906.5" y="649.5">Filetage gauche</text>
<text class="t" x="906.5" y="663.5">Rosca izquierda</text>
<text class="t" style="font-size:12px" x="978.7" y="734.6">nderungen vorbehalten</text>
<text class="t" style="font-size:12px" x="975" y="747.9">Modifications reserved</text>
<text class="t" style="font-size:12px" x="975" y="760.8">Modifications reservees</text>
<text class="t" style="font-size:12px" x="975" y="773.4">Salvo modificaciones</text>
</svg>
</body></html>
